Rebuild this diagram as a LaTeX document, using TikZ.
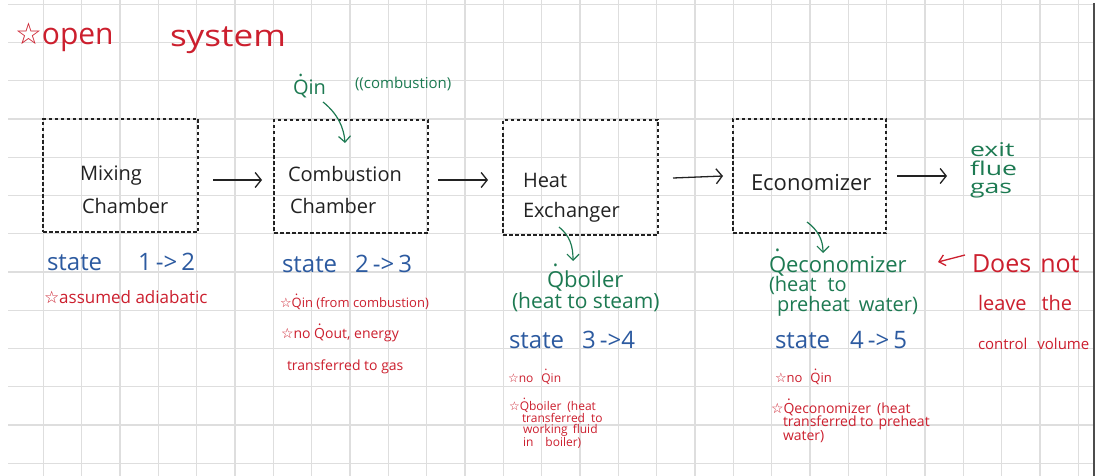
\documentclass[tikz,border=0pt]{standalone}
\usepackage{fontspec}
\setmainfont{Open Sans}
\newfontfamily\symf{DejaVu Sans}
\newfontfamily\widef{Open Sans}[FakeStretch=1.4]
\newfontfamily\midf{Open Sans}[FakeStretch=1.17]
\usetikzlibrary{arrows.meta}
\definecolor{hred}{HTML}{CC1F2E}
\definecolor{hgreen}{HTML}{1D7A52}
\definecolor{hblue}{HTML}{2C5AA0}
\definecolor{hink}{HTML}{222222}
\definecolor{gridc}{HTML}{DEDEDE}
\newcommand\Qd{\ooalign{Q\cr\hidewidth\raisebox{0.92em}{.}\hidewidth\cr}}
\newcommand\hst{{\symf ☆}}
\newcommand\fs[2]{\fontsize{#1}{#2}\selectfont}
\begin{document}
\begin{tikzpicture}[x=1pt,y=-1pt,
  every node/.style={inner sep=0pt,outer sep=0pt},
  txt/.style={anchor=base west,align=left},
  gridline/.style={draw=gridc,line width=1.3pt},
  cvbox/.style={draw=hink,line width=1.1pt,dash pattern=on 3.5pt off 2.5pt,rectangle},
  flow/.style={draw=hink,line width=1.3pt,-{Straight Barb[length=6pt,width=15pt]}},
  gflow/.style={draw=hgreen,line width=1.2pt,-{Straight Barb[length=6pt,width=12pt]}},
  rflow/.style={draw=hred,line width=1.3pt,-{Straight Barb[length=6pt,width=11pt]}},
  rtxt/.style={txt,text=hred},
  gtxt/.style={txt,text=hgreen},
  btxt/.style={txt,text=hblue,font=\fs{24}{24}},
  ktxt/.style={txt,text=hink}
]
\useasboundingbox (0,0) rectangle (1102,476);
\fill[white] (0,0) rectangle (1102,476);
% grid
\foreach \i in {0,...,27} \draw[gridline] ({43.3+38.33*\i},0) -- ({43.3+38.33*\i},476);
\foreach \j in {0,...,12} \draw[gridline] (8,{4.3+38.25*\j}) -- (1093,{4.3+38.25*\j});
\draw[line width=2pt,black!70] (1094,3) -- (1094,476);

% title
\node[rtxt,font=\fs{30}{30}] (t1) at (15,45) {\hst open};
\node[rtxt,font=\midf\fs{30}{30}] (t2) at (170,47) {system};

% control volumes
\node[cvbox,minimum width=155pt,minimum height=113pt] (b1) at (120.5,175.5) {};
\node[cvbox,minimum width=154pt,minimum height=113pt] (b2) at (351,176.5) {};
\node[cvbox,minimum width=155pt,minimum height=115pt] (b3) at (580.5,177.5) {};
\node[cvbox,minimum width=153pt,minimum height=114pt] (b4) at (809.5,176) {};

% (multi-line nodes are placed by the baseline of their last line)
\node[ktxt,font=\fs{20}{33}] (l1) at (80,213) {Mixing\\\hspace*{2pt}Chamber};
\node[ktxt,font=\fs{20}{32}] (l2) at (288,213) {Combustion\\\hspace*{2pt}Chamber};
\node[ktxt,font=\fs{20}{30}] (l3) at (523,217) {Heat\\Exchanger};
\node[ktxt,font=\fs{22}{22}] (l4) at (751,190) {Economizer};
\node[gtxt,font=\widef\fs{19}{18}] (exit) at (970,193) {exit\\flue\\gas};

% flow arrows
\draw[flow] ([xshift=15pt,yshift=-4.5pt]b1.east) -- ([xshift=-12pt,yshift=-3.5pt]b2.west);
\draw[flow] ([xshift=10pt,yshift=-3.5pt]b2.east) -- ([xshift=-15pt,yshift=-2.5pt]b3.west);
\draw[flow] ([xshift=15pt,yshift=-0.5pt]b3.east) -- ([xshift=-10pt,yshift=0pt]b4.west);
\draw[flow] ([xshift=11pt]b4.east) -- ([xshift=-23pt]exit.west |- b4.east);

% heat in to combustion chamber
\node[gtxt,font=\fs{20}{20}] (qin) at (293,95) {\Qd in};
\node[gtxt,font=\fs{15}{15}] (qinc) at (355,89) {((combustion)};
\coordinate (qa) at (323,102);
\coordinate (qb) at (345,143);
\draw[gflow] (qa) .. controls (338,114) and (344,128) .. (qb);

% state 1->2
\node[btxt] (s12) at (47,270) {state\hspace{36pt}1\,->\,2};
\node[rtxt,font=\fs{17}{17}] (n12) at (44,303) {\hst assumed adiabatic};

% state 2->3
\node[btxt] (s23) at (282,272) {state\hspace{18pt}2\,->\,3};
\node[rtxt,font=\fs{13}{13}] (n23a) at (280,307) {\hst\Qd in (from combustion)};
\node[rtxt,font=\fs{14}{14}] (n23b) at (281,338) {\hst no \Qd out, energy};
\node[rtxt,font=\fs{14}{14}] (n23c) at (287,370) {transferred to gas};

% heat exchanger
\coordinate (ba) at (559,227);
\coordinate (bb) at (573,261);
\draw[gflow] (ba) .. controls (570,236) and (573,246) .. (bb);
\node[gtxt,font=\fs{22}{22}] (qboil) at (547,287) {\Qd boiler};
\node[gtxt,font=\fs{21}{21}] (qboil2) at (512,308) {(heat to steam)};
\node[btxt] (s34) at (509,348) {state\hspace{18pt}3\,->4};
\node[rtxt,font=\fs{12}{12}] (n34a) at (508,382) {\hst no\hspace{8pt}\Qd in};
\node[rtxt,font=\fs{12}{11.5}] (n34b) at (509,446.5) {\hst\Qd boiler\hspace{6pt}(heat\\\hspace*{13pt}transferred\hspace{6pt}to\\\hspace*{14pt}working\hspace{5pt}fluid\\\hspace*{14pt}in\hspace{12pt}boiler)};

% economizer
\coordinate (ea) at (807,222);
\coordinate (eb) at (823,253);
\draw[gflow] (ea) .. controls (818,230) and (823,240) .. (eb);
\node[gtxt,font=\fs{22}{22}] (qeco) at (769,272) {\Qd economizer};
\node[gtxt,font=\fs{20}{17}] (qeco2) at (769,311) {(heat\hspace{11pt}to\\\hspace*{8pt}preheat\hspace{9pt}water)};
\node[btxt] (s45) at (775,348) {state\hspace{20pt}4\,->\,5};
\node[rtxt,font=\fs{13}{13}] (n45a) at (775,382) {\hst no\hspace{8pt}\Qd in};
\node[rtxt,font=\fs{14}{13.5}] (n45b) at (771,440) {\hst\Qd economizer\hspace{6pt}(heat\\\hspace*{12pt}transferred to\hspace{5pt}preheat\\\hspace*{12pt}water)};

% note on the right
\node[rtxt,font=\fs{25}{25}] (dn) at (972,272) {Does\hspace{9pt}not};
\node[rtxt,font=\fs{20}{20}] (lv) at (978,310) {leave\hspace{15pt}the};
\node[rtxt,font=\fs{15}{15}] (cv) at (978,349) {control\hspace{10pt}volume};
\coordinate (da) at (965,255);
\coordinate (db) at (938,262);
\draw[rflow] (da) -- (db);
\end{tikzpicture}
\end{document}
